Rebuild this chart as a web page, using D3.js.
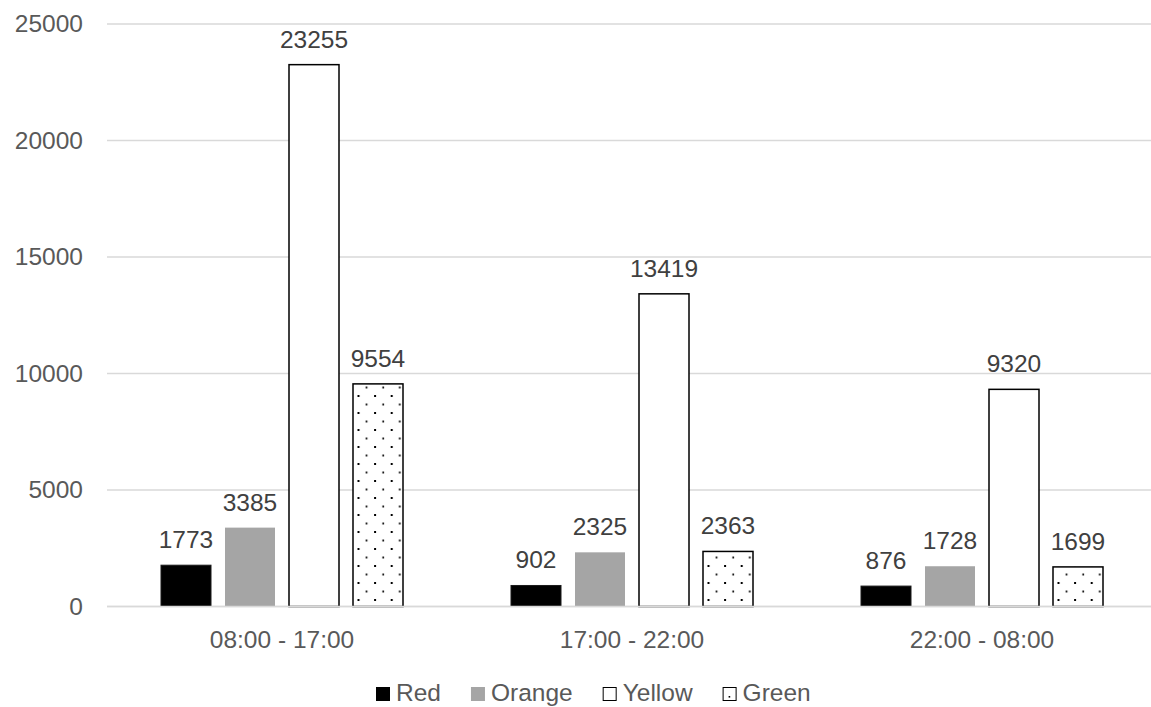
<!DOCTYPE html>
<html>
<head>
<meta charset="utf-8">
<script src="https://cdn.jsdelivr.net/npm/d3@7"></script>
<style>
  html, body { margin: 0; padding: 0; background: #fff; }
  svg { display: block; font-family: "Liberation Sans", Arial, sans-serif; }
</style>
</head>
<body>
<svg id="chart" width="1151" height="707"></svg>
<script>
// Time windows (categories) and counts per triage colour
const categories = ["08:00 - 17:00", "17:00 - 22:00", "22:00 - 08:00"];
const seriesNames = ["Red", "Orange", "Yellow", "Green"];
const red    = [1773, 902, 876];
const orange = [3385, 2325, 1728];
const yellow = [23255, 13419, 9320];
const green  = [9554, 2363, 1699];
const yTicks = [0, 5000, 10000, 15000, 20000, 25000];

const seriesValues = { Red: red, Orange: orange, Yellow: yellow, Green: green };

const svg = d3.select("#chart");
const W = 1151, H = 707;
const margin = { left: 107, top: 24, bottom: 100.5 };
const plotW = 1050;
const plotBottom = H - margin.bottom;

// Fill definitions: dotted pattern for the Green series
const defs = svg.append("defs");
const pat = defs.append("pattern")
  .attr("id", "dots")
  .attr("patternUnits", "userSpaceOnUse")
  .attr("x", 1.5).attr("y", 4)
  .attr("width", 16.6).attr("height", 17);
pat.append("rect").attr("width", 16.6).attr("height", 17).attr("fill", "#fff");
pat.append("rect").attr("x", 0).attr("y", 0).attr("width", 2).attr("height", 2).attr("fill", "#000");
pat.append("rect").attr("x", 8.3).attr("y", 8.5).attr("width", 1.6).attr("height", 2).attr("fill", "#000");

const style = {
  Red:    { fill: "#000000", stroke: "#1a1a1a", sw: 1 },
  Orange: { fill: "#a5a5a5", stroke: "none",    sw: 0 },
  Yellow: { fill: "#ffffff", stroke: "#000000", sw: 1.5 },
  Green:  { fill: "url(#dots)", stroke: "#000000", sw: 1.5 }
};

// Scales
const x0 = d3.scaleBand().domain(categories).range([margin.left, margin.left + plotW]).padding(0);
const x1 = d3.scaleBand().domain(seriesNames).range([54, 296]).paddingInner(14 / 64).paddingOuter(0);
const y = d3.scaleLinear().domain([0, 25000]).range([plotBottom, margin.top]);

// Horizontal gridlines
svg.append("g").selectAll("line").data(yTicks).join("line")
  .attr("x1", margin.left).attr("x2", margin.left + plotW)
  .attr("y1", d => y(d)).attr("y2", d => y(d))
  .attr("stroke", "#d9d9d9").attr("stroke-width", 1.6);

// Y-axis labels
const yAxis = svg.append("g")
  .attr("transform", `translate(${margin.left - 24},0)`)
  .call(d3.axisLeft(y).tickValues(yTicks).tickFormat(d3.format("d")).tickSize(0).tickPadding(0));
yAxis.select(".domain").remove();
yAxis.selectAll("text")
  .attr("fill", "#595959").attr("font-size", 24.5)
  .attr("font-family", "Liberation Sans, Arial, sans-serif");

// Bars
const groups = svg.append("g").selectAll("g").data(categories).join("g")
  .attr("transform", d => `translate(${x0(d)},0)`);

const barData = (c, i) => seriesNames.map(s => ({ s, v: seriesValues[s][i] }));

groups.selectAll("rect").data(barData).join("rect")
  .attr("x", d => x1(d.s))
  .attr("y", d => y(d.v))
  .attr("width", x1.bandwidth())
  .attr("height", d => y(0) - y(d.v))
  .attr("fill", d => style[d.s].fill)
  .attr("stroke", d => style[d.s].stroke)
  .attr("stroke-width", d => style[d.s].sw);

// Value labels
groups.selectAll("text.val").data(barData).join("text")
  .attr("class", "val")
  .attr("x", d => x1(d.s) + x1.bandwidth() / 2)
  .attr("y", d => y(d.v) - 17)
  .attr("text-anchor", "middle")
  .attr("fill", "#404040").attr("font-size", 24.5)
  .text(d => d.v);

// Baseline
svg.append("line")
  .attr("x1", margin.left).attr("x2", margin.left + plotW)
  .attr("y1", y(0)).attr("y2", y(0))
  .attr("stroke", "#d9d9d9").attr("stroke-width", 1.6);

// Category labels
svg.append("g").selectAll("text").data(categories).join("text")
  .attr("x", d => x0(d) + x0.bandwidth() / 2)
  .attr("y", plotBottom + 41)
  .attr("text-anchor", "middle")
  .attr("fill", "#595959").attr("font-size", 24.5)
  .text(d => d);

// Legend
const legend = svg.append("g");
let lx = 376;
const ly = 701;
seriesNames.forEach(s => {
  const st = style[s];
  legend.append("rect")
    .attr("x", lx + 0.5).attr("y", ly - 14 + 0.5)
    .attr("width", 13).attr("height", 13)
    .attr("fill", s === "Green" ? "#fff" : st.fill)
    .attr("stroke", s === "Orange" ? "#a5a5a5" : "#000")
    .attr("stroke-width", 1);
  if (s === "Green") {
    legend.append("rect").attr("x", lx + 6).attr("y", ly - 5)
      .attr("width", 1.6).attr("height", 1.6).attr("fill", "#000");
  }
  const t = legend.append("text")
    .attr("x", lx + 20).attr("y", ly)
    .attr("fill", "#595959").attr("font-size", 24.5)
    .text(s);
  lx += 20 + t.node().getComputedTextLength() + 30;
});
</script>
</body>
</html>
